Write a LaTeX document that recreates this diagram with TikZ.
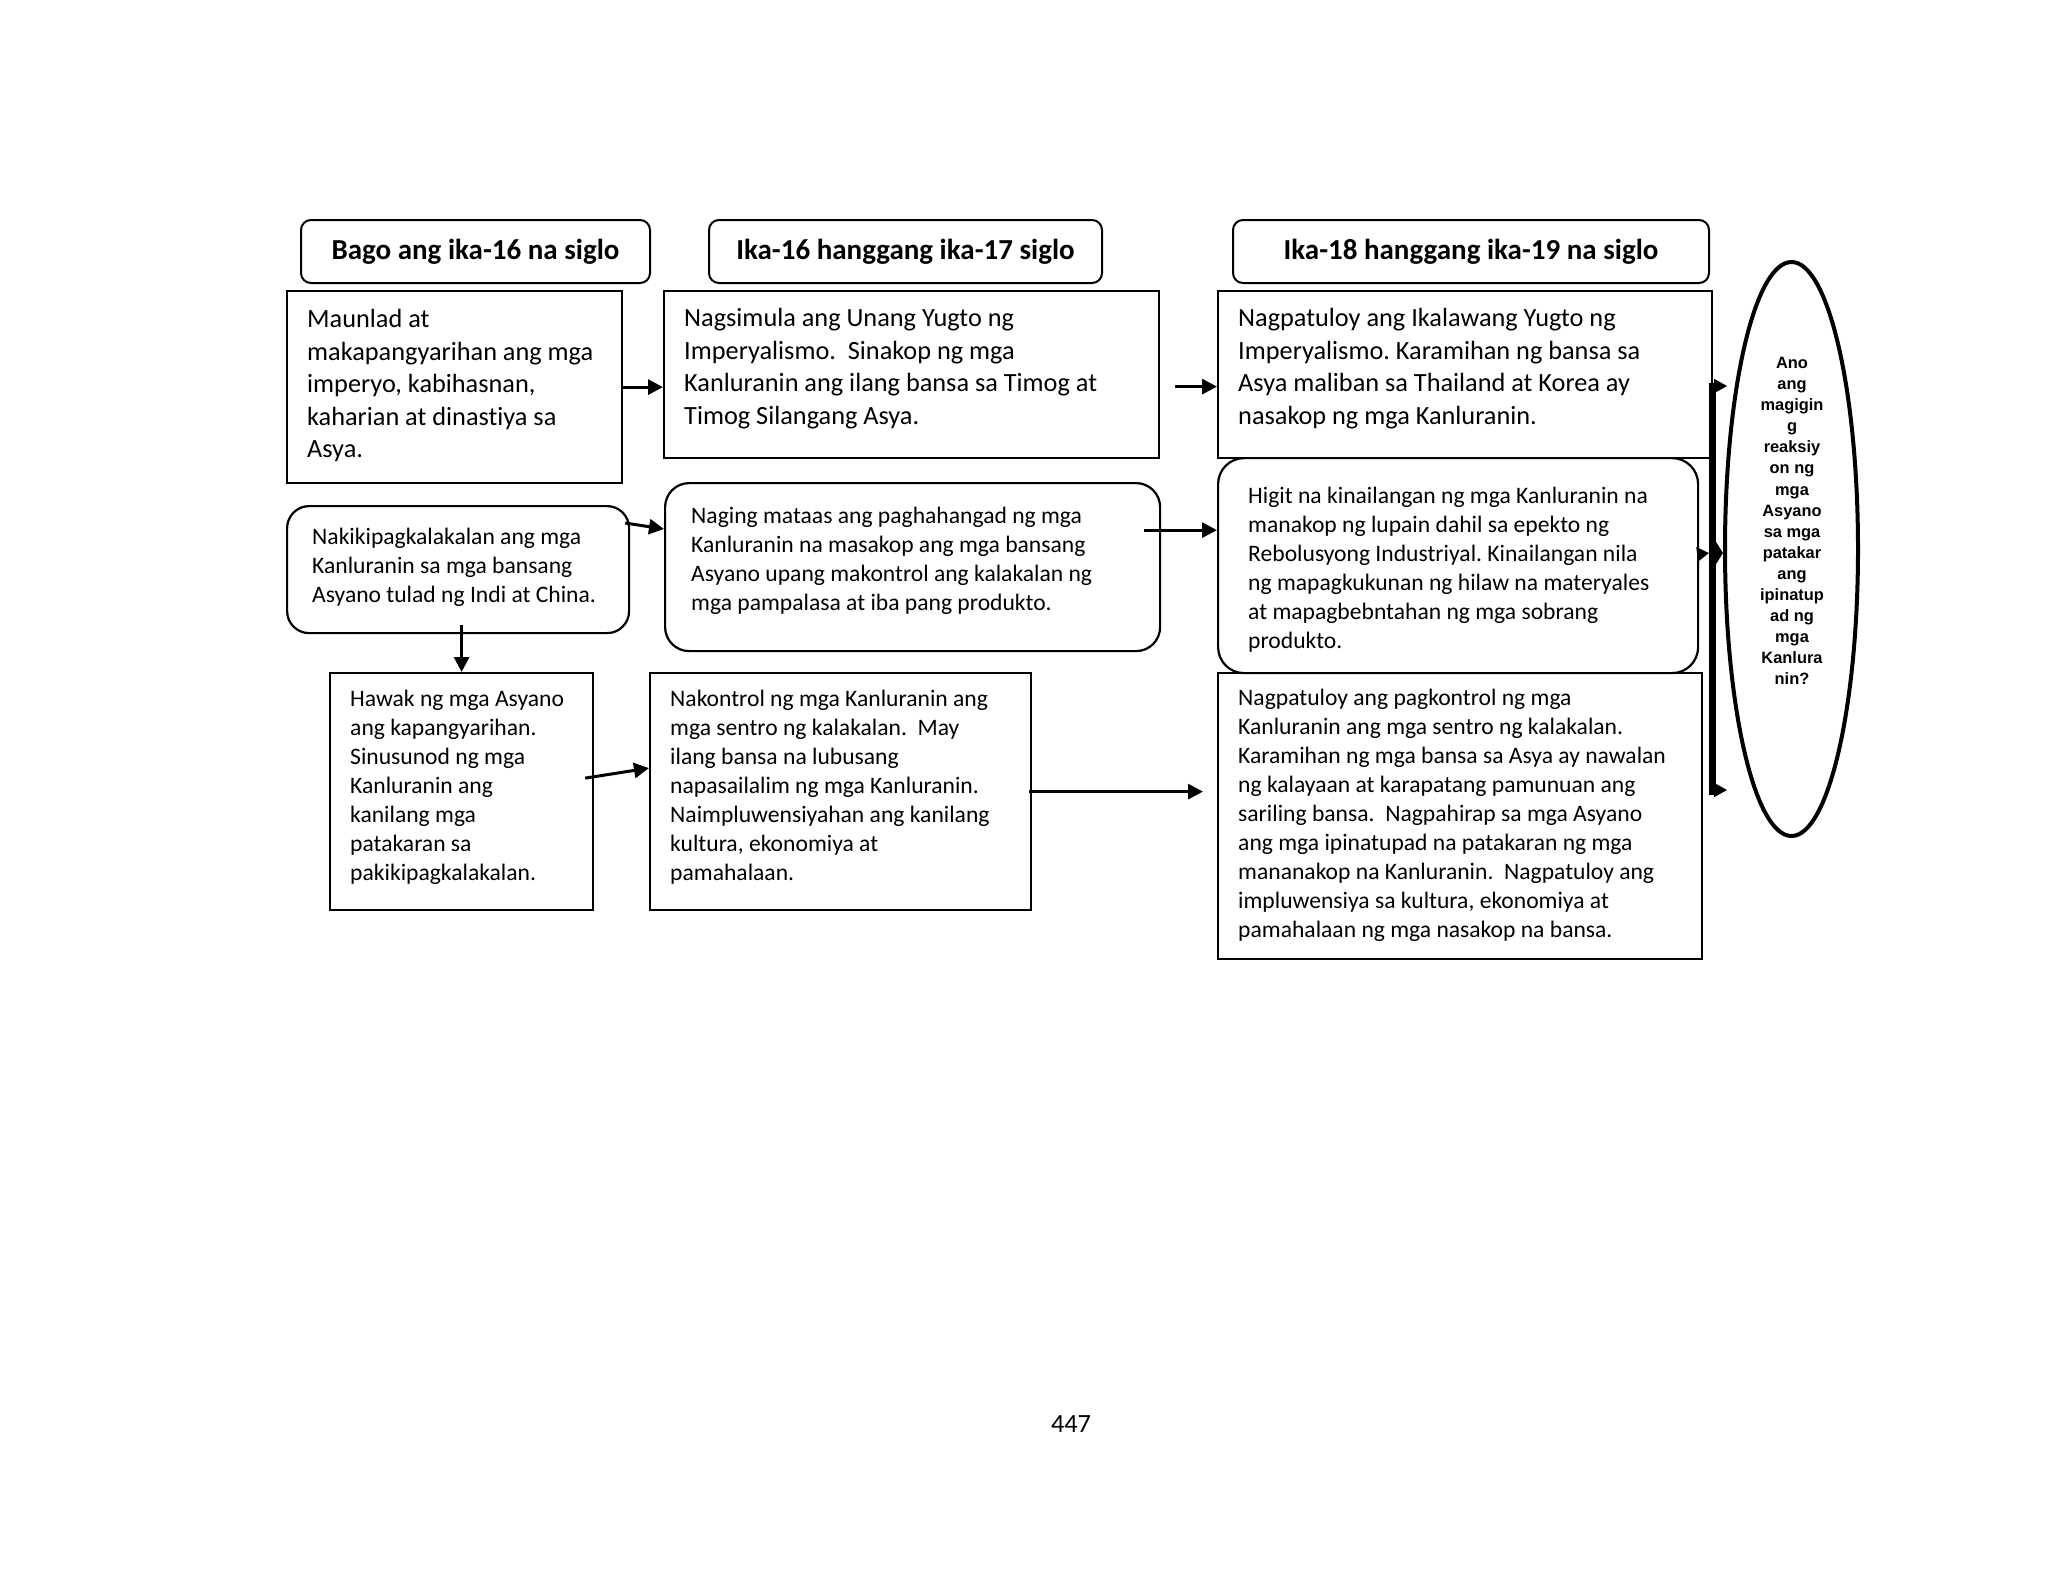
\documentclass[tikz,border=0pt]{standalone}
\usepackage{fontspec}
\setmainfont{Carlito}[Ligatures={NoCommon}]
\newfontfamily\ellfont{Liberation Sans}
\usetikzlibrary{shapes.geometric,arrows.meta,calc}
\begin{document}
\frenchspacing
\begin{tikzpicture}[x=1pt,y=-1pt,
  box/.style={draw, line width=2.2pt, inner sep=0pt, anchor=north west},
  rbox/.style={box, rounded corners=22pt},
  hdr/.style={draw, line width=2pt, rounded corners=10pt, anchor=north west, inner sep=0pt,
    font=\fontsize{29}{34}\selectfont\bfseries},
  txtA/.style={anchor=north west, inner sep=0pt, align=left, font=\fontsize{26.3}{32.5}\selectfont},
  txtB/.style={anchor=north west, inner sep=0pt, align=left, font=\fontsize{23.6}{29}\selectfont},
  arr/.style={line width=3pt, -{Triangle[length=15pt,width=15pt]}},
  smallarr/.style={line width=2pt, -{Triangle[length=13pt,width=14pt]}},
  qtext/.style={align=center, inner sep=0pt, font=\ellfont\bfseries\fontsize{16.4}{21.1}\selectfont},
  pagenum/.style={inner sep=0pt, font=\fontsize{26.3}{32}\selectfont}]
\useasboundingbox[fill=white] (0,0) rectangle (2048,1572);

% headers
\node[hdr, minimum width=349pt, minimum height=63pt] (h1) at (300,219) {Bago ang ika-16 na siglo};
\node[hdr, minimum width=393pt, minimum height=63pt] (h2) at (708,219) {Ika-16 hanggang ika-17 siglo};
\node[hdr, minimum width=476pt, minimum height=63pt] (h3) at (1232,219) {Ika-18 hanggang ika-19 na siglo};

% row 1
\node[box, minimum width=335pt, minimum height=192pt] (a1) at (286,290) {};
\node[box, minimum width=495pt, minimum height=167pt] (b1) at (663,290) {};
\node[box, minimum width=494pt, minimum height=167pt] (c1) at (1217,290) {};
\node[txtA] (a1t) at (307,305) {\strut Maunlad at\\makapangyarihan ang mga\\imperyo, kabihasnan,\\kaharian at dinastiya sa\\Asya.};
\node[txtA] (b1t) at (684,304) {\strut Nagsimula ang Unang Yugto ng\\Imperyalismo.\ \ Sinakop ng mga\\Kanluranin ang ilang bansa sa Timog at\\Timog Silangang Asya.};
\node[txtA] (c1t) at (1238,304) {\strut Nagpatuloy ang Ikalawang Yugto ng\\Imperyalismo. Karamihan ng bansa sa\\Asya maliban sa Thailand at Korea ay\\nasakop ng mga Kanluranin.};

% row 2
\node[rbox, minimum width=342pt, minimum height=127pt] (a2) at (286,505) {};
\node[rbox, rounded corners=24pt, minimum width=495pt, minimum height=168pt] (b2) at (664,482) {};
\node[rbox, rounded corners=26pt, minimum width=480pt, minimum height=215pt] (c2) at (1217,457) {};
\node[txtB] (a2t) at (312,524) {\strut Nakikipagkalakalan ang mga\\Kanluranin sa mga bansang\\Asyano tulad ng Indi at China.};
\node[txtB] (b2t) at (691,503) {\strut Naging mataas ang paghahangad ng mga\\Kanluranin na masakop ang mga bansang\\Asyano upang makontrol ang kalakalan ng\\mga pampalasa at iba pang produkto.};
\node[txtB] (c2t) at (1248,483) {\strut Higit na kinailangan ng mga Kanluranin na\\manakop ng lupain dahil sa epekto ng\\Rebolusyong Industriyal. Kinailangan nila\\ng mapagkukunan ng hilaw na materyales\\at mapagbebntahan ng mga sobrang\\produkto.};

% row 3
\node[box, minimum width=263pt, minimum height=237pt] (a3) at (329,672) {};
\node[box, minimum width=381pt, minimum height=237pt] (b3) at (649,672) {};
\node[box, minimum width=484pt, minimum height=286pt] (c3) at (1217,672) {};
\node[txtB] (a3t) at (350,686) {\strut Hawak ng mga Asyano\\ang kapangyarihan.\\Sinusunod ng mga\\Kanluranin ang\\kanilang mga\\patakaran sa\\pakikipagkalakalan.};
\node[txtB] (b3t) at (670,686) {\strut Nakontrol ng mga Kanluranin ang\\mga sentro ng kalakalan.\ \ May\\ilang bansa na lubusang\\napasailalim ng mga Kanluranin.\\Naimpluwensiyahan ang kanilang\\kultura, ekonomiya at\\pamahalaan.};
\node[txtB] (c3t) at (1238,685) {\strut Nagpatuloy ang pagkontrol ng mga\\Kanluranin ang mga sentro ng kalakalan.\\Karamihan ng mga bansa sa Asya ay nawalan\\ng kalayaan at karapatang pamunuan ang\\sariling bansa.\ \ Nagpahirap sa mga Asyano\\ang mga ipinatupad na patakaran ng mga\\mananakop na Kanluranin.\ \ Nagpatuloy ang\\impluwensiya sa kultura, ekonomiya at\\pamahalaan ng mga nasakop na bansa.};

% ellipse question
\node[ellipse, draw, line width=4pt, minimum width=133pt, minimum height=574pt, inner sep=0pt] (ell) at (1791.5,549) {};
\node[qtext] (q) at (1792,521) {Ano\\ang\\magigin\\g\\reaksiy\\on ng\\mga\\Asyano\\sa mga\\patakar\\ang\\ipinatup\\ad ng\\mga\\Kanlura\\nin?};

% connectors
\draw[arr] (a1.east) -- (a1.east -| b1.west);
\draw[arr] ($(b1.east)+(15,12)$) -- ($(c1.west)+(0,12)$);
\draw[arr] ($(a2.north east)+(-5,18)$) -- ($(b2.north west)+(0,47)$);
\draw[arr] ($(a2.south -| a3.north)+(0,-9)$) -- (a3.north);
\draw[arr] ($(b2.east)+(-17,-37)$) -- ($(c2.west)+(0,-35.5)$);
\draw[arr] ($(a3.east)+(-9,-13.5)$) -- ($(b3.west)+(0,-23.5)$);
\draw[arr] ($(b3.east)+(-3,0)$) -- ($(c3.west |- b3.east)+(-14,0)$);

% bracket
\coordinate (bartop) at (1712,383);
\coordinate (barbot) at (1712,795);
\coordinate (barmid) at (1712,553);
\coordinate (t1) at (1712,386);
\coordinate (t2) at (1712,790);
\draw[line width=7pt] (bartop) -- (barbot);
\draw[line width=3pt, -{Triangle[length=12pt,width=14pt]}] ($(c2.east)+(0,-11.5)$) -- ($(barmid)+(-3,0)$);
\draw[smallarr] (t1) -- ++(15,0);
\draw[smallarr] (t2) -- ++(15,0);
\draw[line width=3pt, -{Triangle[length=14pt,width=44pt]}] (barmid) -- (barmid -| ell.west);

% page number
\node[pagenum] (pg) at (1071,1424) {447};
\end{tikzpicture}
\end{document}
